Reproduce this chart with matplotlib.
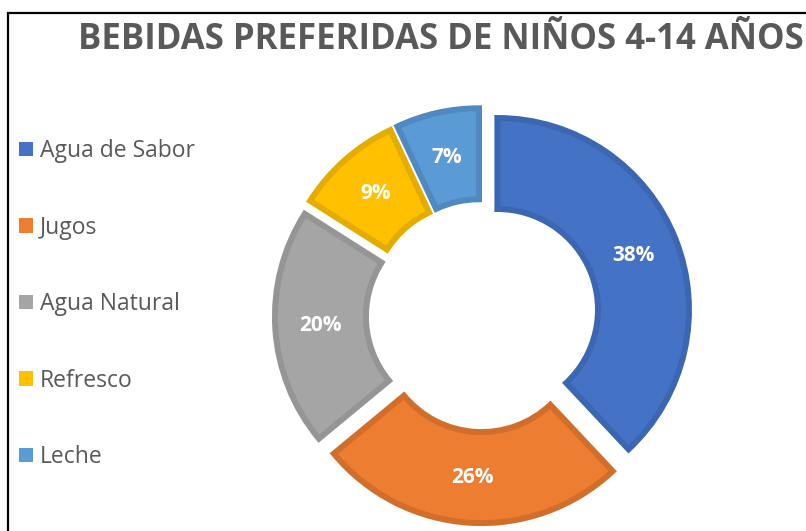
import matplotlib
matplotlib.use("Agg")
import matplotlib.pyplot as plt
from matplotlib.patches import Patch, Rectangle

categories = ["Agua de Sabor", "Jugos", "Agua Natural", "Refresco", "Leche"]
values = [38, 26, 20, 9, 7]
fill_colors = ["#4472C4", "#ED7D31", "#A5A5A5", "#FFC000", "#5B9BD5"]
edge_colors = ["#3D66B2", "#D26E2B", "#959595", "#E5AC00", "#5089C0"]
title = "BEBIDAS PREFERIDAS DE NIÑOS 4-14 AÑOS"

W, H = 806, 531
fig = plt.figure(figsize=(W / 100, H / 100), dpi=100)
ax = fig.add_axes([0, 0, 1, 1])

body_font = ["Open Sans", "DejaVu Sans"]

# frame
ax.add_patch(Rectangle((8, -20), W + 40, H - 13 + 20, fill=False, ec="black", lw=1.6))

R = 191.6
width = 91
cx, cy = 482.5, H - 315.5
explode = [16] * len(values)

wedges, texts, autotexts = ax.pie(
    values, explode=explode, center=(cx, cy), radius=R, startangle=90,
    counterclock=False, colors=fill_colors, autopct="%1.0f%%",
    pctdistance=(R - width / 2) / R,
    wedgeprops=dict(width=width, linewidth=4.3),
    textprops=dict(color="white", fontsize=15, fontweight="bold", family=body_font),
)
for w, ec in zip(wedges, edge_colors):
    w.set_edgecolor(ec)
ax.set_xlim(0, W)
ax.set_ylim(0, H)
ax.set_aspect("equal")
ax.axis("off")

fig.text(78 / W, 1 - 40 / H, title, ha="left", va="center", fontsize=25,
         fontweight="bold", color="#595959", family=body_font)

handles = [Patch(facecolor=c, edgecolor="none") for c in fill_colors]
leg = fig.legend(handles, categories, loc="upper left",
                 bbox_to_anchor=(10 / W, 1 - 130 / H), frameon=False,
                 prop=dict(family=body_font, size=16.5),
                 handlelength=0.6, handleheight=0.6, handletextpad=0.3,
                 labelspacing=2.29, borderaxespad=0)
for t in leg.get_texts():
    t.set_color("#595959")

fig.savefig("out.png", dpi=100)
